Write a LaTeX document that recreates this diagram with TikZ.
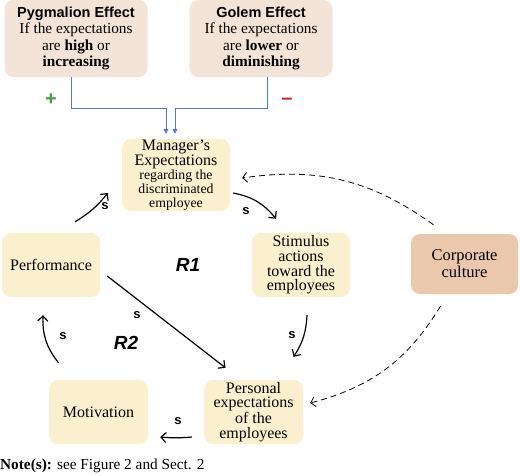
\documentclass[tikz,border=0pt]{standalone}
\usepackage{fontspec}
\setmainfont{Liberation Serif}
\setsansfont{Liberation Sans}
\usetikzlibrary{arrows.meta}
\definecolor{boxyellow}{HTML}{FBF0CD}
\definecolor{boxpeach}{HTML}{F4E4D7}
\definecolor{boxcorp}{HTML}{EBC8AC}
\definecolor{lineblue}{HTML}{5577D6}
\definecolor{plusgreen}{HTML}{3FA33F}
\definecolor{minusred}{HTML}{D42020}
\begin{document}
\begin{tikzpicture}[x=1pt,y=-1pt,
  box/.style={rounded corners=9pt, align=center, inner sep=1pt, text=black},
  ybox/.style={box, fill=boxyellow, font=\fontsize{16}{14.6}\selectfont},
  pbox/.style={box, fill=boxpeach, minimum width=143pt, minimum height=77pt, font=\fontsize{15.3}{16.5}\selectfont},
  blueline/.style={draw=lineblue, line width=0.7pt, -{Triangle[length=5pt,width=5pt]}},
  arr/.style={draw=black, line width=1.2pt, -{Straight Barb[length=5pt,width=10pt]}},
  dasharr/.style={draw=black, line width=0.8pt, dash pattern=on 6pt off 4pt, -{Straight Barb[length=4.5pt,width=10pt]}},
  slab/.style={font=\sffamily\bfseries\fontsize{13}{14}\selectfont},
  rlab/.style={font=\sffamily\bfseries\itshape\fontsize{19}{20}\selectfont}
]
\useasboundingbox (0,0) rectangle (520,475);

\node[pbox] (pyg) at (76,38.5) {{\sffamily\bfseries\fontsize{14.5}{16.5}\selectfont Pygmalion Effect}\\If the expectations\\are \textbf{high} or\\\textbf{increasing}};
\node[pbox] (gol) at (261,38.5) {{\sffamily\bfseries\fontsize{14.5}{16.5}\selectfont Golem Effect}\\If the expectations\\are \textbf{lower} or\\\textbf{diminishing}};

\node[ybox, minimum width=108pt, minimum height=64pt, font=\fontsize{13.8}{13.8}\selectfont] (mgr) at (176,175)
  {{\fontsize{16}{14}\selectfont Manager’s}\\{\fontsize{16}{14}\selectfont Expectations}\\regarding the\\discriminated\\employee};
\node[ybox, minimum width=98pt, minimum height=64pt] (perf) at (51,265) {\fontsize{16}{17}\selectfont Performance};
\node[ybox, minimum width=98pt, minimum height=64pt] (stim) at (301,265) {Stimulus\\actions\\toward the\\employees};
\node[box, fill=boxcorp, minimum width=107pt, minimum height=60pt, font=\fontsize{16.5}{17}\selectfont] (corp) at (464.5,264) {Corporate\\culture};
\node[ybox, minimum width=99pt, minimum height=64pt] (mot) at (98.5,412) {\fontsize{16}{17}\selectfont Motivation};
\node[ybox, minimum width=99pt, minimum height=64pt] (pers) at (253.5,412) {Personal\\expectations\\of the\\employees};

% blue feed lines
\draw[blueline] ([xshift=-5pt]pyg.south) -- ++(0,31) -| ([xshift=-10pt,yshift=5pt]mgr.north);
\draw[blueline] ([xshift=6pt]gol.south) -- ++(0,31) -| ([xshift=-1pt,yshift=5pt]mgr.north);
\node[text=plusgreen, font=\sffamily\bfseries\fontsize{20}{20}\selectfont] (plus) at (51,100) {+};
\node[text=minusred, font=\sffamily\bfseries\fontsize{20}{20}\selectfont] (minus) at (287,101) {\textendash};

% loop arrows
\draw[arr] ([shift={(24,-11)}]perf.north) to[bend right=10] ([shift={(-14,18)}]mgr.west);
\node[slab] (s1) at (105,206) {s};
\draw[arr] ([shift={(3,18)}]mgr.east) to[bend left=20] ([shift={(-25,-14)}]stim.north);
\node[slab] (s2) at (246,211) {s};
\draw[arr] ([shift={(6,18)}]stim.south) to[bend left=15] ([shift={(40,-23)}]pers.north);
\node[slab] (s3) at (292,335) {s};
\draw[arr] ([shift={(-12,25)}]pers.west) to[bend left=5] ([shift={(12,25)}]mot.east);
\node[slab] (s4) at (178,421) {s};
\draw[arr] ([shift={(-40,-17)}]mot.north) to[bend left=20] ([shift={(-8,18)}]perf.south);
\node[slab] (s5) at (63,336) {s};
\draw[arr] ([shift={(7,11)}]perf.east) -- ([shift={(-28,-12)}]pers.north);
\node[slab] (s6) at (137,315) {s};

% dashed influences
\draw[dasharr] ([shift={(-31,-9)}]corp.north) to[bend right=22] ([shift={(12,3)}]mgr.east);
\draw[dasharr] ([shift={(-24,12)}]corp.south) to[bend left=22] ([shift={(7,-9)}]pers.east);

\node[rlab] (r1) at (188,265) {R1};
\node[rlab] (r2) at (126,343) {R2};

\node[anchor=west, inner sep=0pt, font=\fontsize{15.3}{16}\selectfont] (note) at (0,466) {\textbf{Note(s):} see Figure 2 and Sect. 2};
\end{tikzpicture}
\end{document}
